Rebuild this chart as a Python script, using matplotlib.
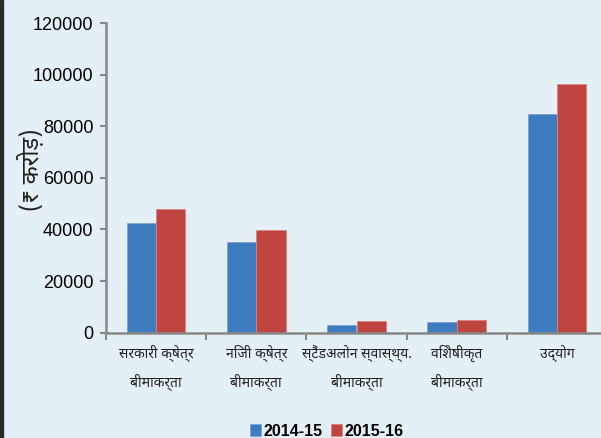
import matplotlib
matplotlib.use('Agg')
import matplotlib.pyplot as plt
import numpy as np
from matplotlib.patches import Rectangle

# data
kategori = ['सरकारी क्षेत्र\nबीमाकर्ता', 'निजी क्षेत्र\nबीमाकर्ता',
            'स्टैंडअलोन स्वास्थ्य.\nबीमाकर्ता', 'विशेषीकृत\nबीमाकर्ता', 'उद्योग']
val_2014 = [42600, 35300, 3100, 4000, 84700]
val_2015 = [47900, 39900, 4400, 4900, 96300]
serie = ['2014-15', '2015-16']
yticks = [0, 20000, 40000, 60000, 80000, 100000, 120000]

hindi_font = ['Noto Sans Devanagari', 'Noto Serif Devanagari', 'Lohit Devanagari',
              'FreeSerif', 'FreeSans', 'Noto Sans', 'DejaVu Sans']
num_font = ['Liberation Sans Narrow', 'Liberation Sans', 'DejaVu Sans']

bg = '#e5f0f6'
fig = plt.figure(figsize=(6.01, 4.38), dpi=100, facecolor=bg)
ax = fig.add_axes([106/601, 105.3/438, 501/601, 309.7/438])
ax.set_facecolor(bg)

x = np.arange(len(kategori))
w = 0.293
ax.bar(x - w/2, val_2014, w, color='#3e7bbf', edgecolor='#7da3d3', linewidth=0.6, label=serie[0])
ax.bar(x + w/2, val_2015, w, color='#c0443f', edgecolor='#d98380', linewidth=0.6, label=serie[1])

ax.set_xlim(-0.5, 4.5)
ax.set_ylim(0, 120000)
ax.set_yticks(yticks)
ax.set_yticklabels([str(v) for v in yticks], family=num_font, fontsize=13)

ax.set_xticks(x)
ax.set_xticklabels(kategori, family=hindi_font, fontsize=10, color='#222222', linespacing=1.9)
ax.tick_params(axis='x', which='major', length=0, pad=9)
ax.set_xticks(np.arange(-0.5, 5, 1), minor=True)
ax.tick_params(axis='x', which='minor', length=5, width=1.5, color='#888888', direction='out')
ax.tick_params(axis='y', length=4, width=1.5, color='#888888', pad=5)

for s in ['top', 'right']:
    ax.spines[s].set_visible(False)
for s in ['left', 'bottom']:
    ax.spines[s].set_color('#888888')
    ax.spines[s].set_linewidth(1.8)

fig.text(31/601, 1 - 170/438, '(₹ करोड़)', rotation=90, ha='center', va='center',
         family=hindi_font, fontsize=17, color='#222222')

leg = fig.legend(loc='center', bbox_to_anchor=(327/601, 1 - 431/438), ncol=2, frameon=False,
                 prop={'family': num_font[1:], 'weight': 'bold', 'size': 11.5},
                 handlelength=0.7, handleheight=0.7, handletextpad=0.15, columnspacing=0.5)

fig.patches.append(Rectangle((0, 0), 2.7/601, 1, transform=fig.transFigure,
                             color='#2b2b2b', zorder=10))

plt.savefig('out.png', dpi=100, facecolor=bg)
